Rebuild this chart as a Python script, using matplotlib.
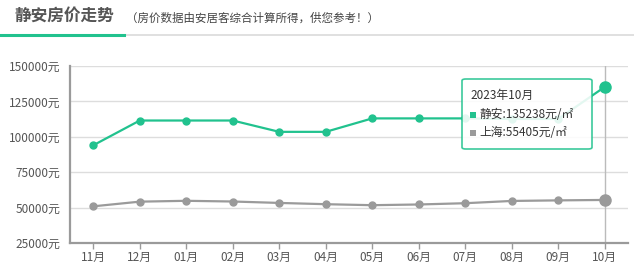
import matplotlib.pyplot as plt
from matplotlib.patches import FancyBboxPatch, Rectangle
from matplotlib.lines import Line2D

plt.rcParams['font.family'] = ['Noto Sans CJK SC', 'DejaVu Sans']

months = ["11月", "12月", "01月", "02月", "03月", "04月", "05月", "06月", "07月", "08月", "09月", "10月"]
jingan = [94000, 111500, 111500, 111500, 103500, 103500, 113000, 113000, 113000, 112600, 112600, 135238]
shanghai = [50900, 54200, 54800, 54300, 53300, 52400, 51700, 52200, 53100, 54700, 55100, 55405]
yticks = [25000, 50000, 75000, 100000, 125000, 150000]

green = '#21c28e'
grey = '#9a9a9a'

W, H = 634, 274
fig = plt.figure(figsize=(W / 100, H / 100), dpi=100)

def fx(px):
    return px / W

def fy(py):
    return 1 - py / H

# header
fig.text(fx(14), fy(17), "静安房价走势", fontsize=12, fontweight='bold', color='#555555', va='center')
fig.text(fx(126), fy(18), "（房价数据由安居客综合计算所得，供您参考！）", fontsize=8.3, color='#444444', va='center')
fig.add_artist(Line2D([fx(124), 1], [fy(34.5), fy(34.5)], color='#dddddd', lw=1.3))
fig.add_artist(Line2D([0, fx(124)], [fy(34.5), fy(34.5)], color=green, lw=2.2))

ax = fig.add_axes([fx(70), fy(243), fx(628) - fx(70), fy(66) - fy(243)])
x = list(range(len(months)))

ax.set_xlim(-0.5, len(months) - 0.5)
ax.set_ylim(yticks[0], yticks[-1])
ax.set_yticks(yticks)
ax.set_yticklabels([f"{v}元" for v in yticks])
ax.set_xticks(x)
ax.set_xticklabels(months)
ax.tick_params(axis='y', length=0, pad=7, labelsize=8.5, labelcolor='#555555')
ax.tick_params(axis='x', length=4, width=1, color=grey, pad=2, labelsize=8.5, labelcolor='#555555')
for v in yticks[1:]:
    ax.axhline(v, color='#dddddd', lw=1, zorder=0)
for s in ['top', 'right']:
    ax.spines[s].set_visible(False)
for s in ['left', 'bottom']:
    ax.spines[s].set_color(grey)
    ax.spines[s].set_linewidth(1.6)

ax.plot([x[-1], x[-1]], [yticks[0], yticks[-1]], color='#bbbbbb', lw=1, zorder=1)

ax.plot(x[:-1], jingan[:-1], color=green, lw=1.6, marker='o', markersize=5, zorder=3, clip_on=False)
ax.plot(x[-2:], jingan[-2:], color=green, lw=1.6, zorder=3, clip_on=False)
ax.plot(x[-1], jingan[-1], 'o', color=green, markersize=8, zorder=4, clip_on=False)
ax.plot(x[:-1], shanghai[:-1], color=grey, lw=1.6, marker='o', markersize=5, zorder=3, clip_on=False)
ax.plot(x[-2:], shanghai[-2:], color=grey, lw=1.6, zorder=3, clip_on=False)
ax.plot(x[-1], shanghai[-1], 'o', color=grey, markersize=8, zorder=4, clip_on=False)

# tooltip
box = FancyBboxPatch((fx(462), fy(149)), fx(592) - fx(462), fy(79) - fy(149),
                     boxstyle='round,pad=0,rounding_size=0.006', transform=fig.transFigure,
                     facecolor='white', edgecolor=green, lw=1.2, alpha=0.88, zorder=10)
fig.add_artist(box)
fig.text(fx(470), fy(95), "2023年10月", fontsize=8.5, color='#333333', va='center', zorder=11)
fig.add_artist(Rectangle((fx(470), fy(117.5)), fx(6) - fx(0), fy(0) - fy(6), transform=fig.transFigure,
                         facecolor=green, edgecolor='none', zorder=11))
fig.text(fx(479), fy(114), f"静安:{jingan[-1]}元/㎡", fontsize=8.5, color='#333333', va='center', zorder=11)
fig.add_artist(Rectangle((fx(470), fy(135.5)), fx(6) - fx(0), fy(0) - fy(6), transform=fig.transFigure,
                         facecolor=grey, edgecolor='none', zorder=11))
fig.text(fx(479), fy(132), f"上海:{shanghai[-1]}元/㎡", fontsize=8.5, color='#333333', va='center', zorder=11)

fig.savefig('out.png', dpi=100)
